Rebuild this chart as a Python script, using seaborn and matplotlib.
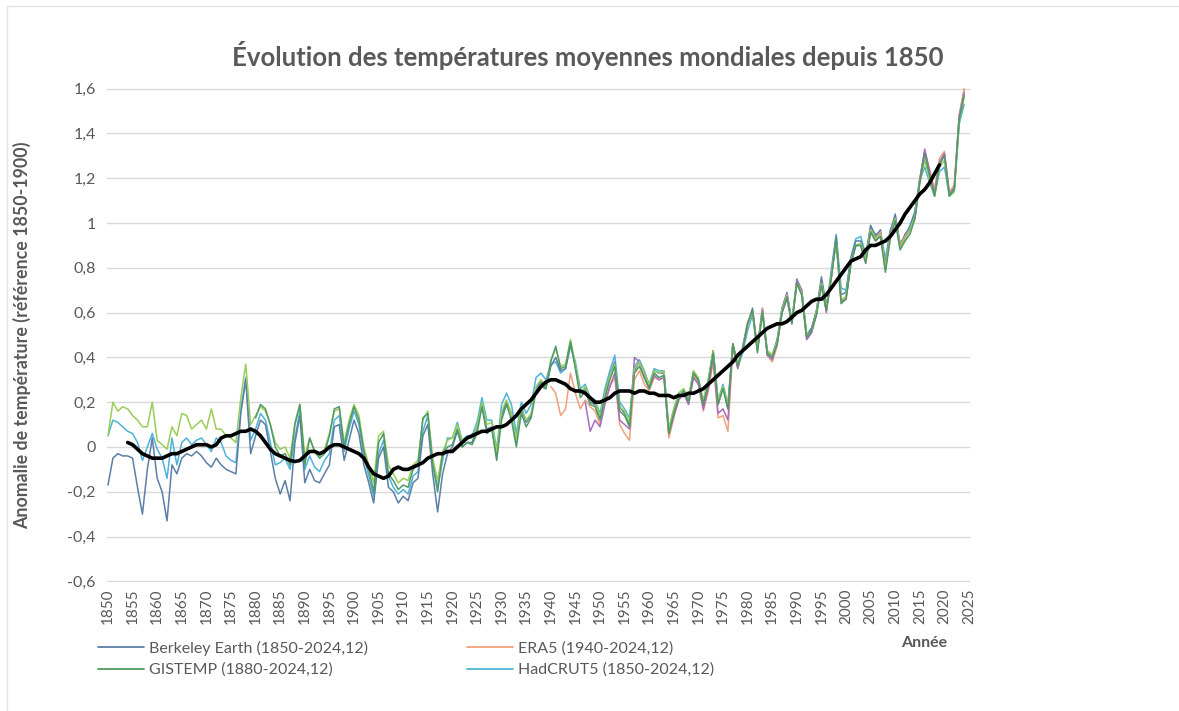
import matplotlib
matplotlib.use("Agg")
import matplotlib.pyplot as plt
import matplotlib.lines as mlines
import seaborn as sns

# ---------------------------------------------------------
# données (anomalies, référence 1850-1900)
# ---------------------------------------------------------
berkeley_start = 1850
berkeley = [
    -0.17, -0.05, -0.03, -0.04, -0.04, -0.05, -0.18, -0.30, -0.10, 0.04,
    -0.14, -0.20, -0.33, -0.08, -0.12, -0.05, -0.03, -0.04, -0.02, -0.04,
    -0.07, -0.09, -0.05, -0.08, -0.10, -0.11, -0.12, 0.15, 0.30, -0.03,
    0.05, 0.12, 0.10, -0.02, -0.14, -0.21, -0.15, -0.24, 0.02, 0.14,
    -0.16, -0.10, -0.15, -0.16, -0.12, -0.08, 0.09, 0.10, -0.06, 0.03,
    0.12, 0.06, -0.08, -0.16, -0.25, -0.05, 0.00, -0.18, -0.20, -0.25,
    -0.22, -0.24, -0.16, -0.14, 0.05, 0.10, -0.12, -0.29, -0.12, -0.03,
    0.00, 0.07, 0.00, 0.02, 0.02, 0.08, 0.19, 0.08, 0.09, -0.04,
    0.14, 0.20, 0.15, 0.02, 0.17, 0.11, 0.14, 0.26, 0.29, 0.26,
    0.36, 0.40, 0.34, 0.35, 0.46, 0.36, 0.24, 0.26, 0.20, 0.19,
    0.13, 0.24, 0.32, 0.38, 0.18, 0.15, 0.10, 0.34, 0.38, 0.33,
    0.27, 0.34, 0.33, 0.33, 0.05, 0.15, 0.22, 0.25, 0.21, 0.33,
    0.30, 0.19, 0.29, 0.43, 0.19, 0.27, 0.17, 0.46, 0.36, 0.44,
    0.55, 0.62, 0.44, 0.62, 0.43, 0.41, 0.48, 0.62, 0.69, 0.56,
    0.75, 0.70, 0.50, 0.53, 0.61, 0.76, 0.63, 0.77, 0.94, 0.68,
    0.69, 0.84, 0.92, 0.92, 0.85, 0.99, 0.94, 0.97, 0.81, 0.96,
    1.04, 0.90, 0.95, 0.98, 1.05, 1.20, 1.32, 1.22, 1.14, 1.27,
    1.31, 1.13, 1.16, 1.48, 1.59,
]

hadcrut_start = 1850
hadcrut = [
    0.05, 0.12, 0.11, 0.09, 0.07, 0.06, 0.02, -0.06, 0.00, 0.06,
    -0.01, -0.05, -0.14, 0.04, -0.08, 0.02, 0.04, 0.01, 0.03, 0.04,
    0.01, -0.02, 0.04, 0.02, -0.04, -0.06, -0.07, 0.17, 0.31, 0.03,
    0.08, 0.15, 0.12, 0.02, -0.08, -0.07, -0.05, -0.10, 0.04, 0.16,
    -0.10, -0.04, -0.09, -0.11, -0.06, -0.03, 0.12, 0.14, -0.02, 0.08,
    0.16, 0.10, -0.04, -0.13, -0.22, -0.03, 0.03, -0.13, -0.18, -0.21,
    -0.19, -0.21, -0.13, -0.11, 0.07, 0.14, -0.07, -0.18, -0.06, 0.04,
    0.04, 0.11, 0.03, 0.05, 0.05, 0.11, 0.22, 0.12, 0.12, -0.01,
    0.19, 0.24, 0.19, 0.06, 0.20, 0.15, 0.19, 0.31, 0.33, 0.30,
    0.37, 0.38, 0.33, 0.35, 0.45, 0.38, 0.26, 0.28, 0.22, 0.21,
    0.15, 0.26, 0.34, 0.41, 0.20, 0.17, 0.13, 0.36, 0.39, 0.34,
    0.28, 0.35, 0.34, 0.34, 0.08, 0.17, 0.24, 0.26, 0.21, 0.34,
    0.28, 0.20, 0.30, 0.43, 0.21, 0.28, 0.19, 0.46, 0.36, 0.42,
    0.52, 0.59, 0.44, 0.61, 0.41, 0.40, 0.47, 0.62, 0.67, 0.57,
    0.73, 0.70, 0.50, 0.53, 0.61, 0.74, 0.61, 0.79, 0.95, 0.71,
    0.70, 0.85, 0.93, 0.94, 0.86, 0.98, 0.95, 0.96, 0.84, 0.97,
    1.03, 0.91, 0.94, 0.99, 1.05, 1.19, 1.25, 1.18, 1.12, 1.23,
    1.25, 1.12, 1.14, 1.44, 1.53,
]

noaa_start = 1850
noaa = [
    0.05, 0.20, 0.16, 0.18, 0.17, 0.14, 0.12, 0.09, 0.09, 0.20,
    0.03, 0.01, -0.01, 0.09, 0.05, 0.15, 0.14, 0.08, 0.10, 0.12,
    0.08, 0.17, 0.08, 0.08, 0.05, 0.04, 0.02, 0.22, 0.37, 0.10,
    0.14, 0.18, 0.16, 0.10, 0.02, -0.01, 0.00, -0.05, 0.11, 0.19,
    -0.04, 0.04, -0.02, -0.04, -0.01, 0.06, 0.16, 0.17, 0.02, 0.12,
    0.19, 0.14, 0.00, -0.08, -0.16, 0.05, 0.07, -0.08, -0.12, -0.16,
    -0.14, -0.15, -0.08, -0.06, 0.12, 0.16, -0.05, -0.15, -0.02, 0.03,
    0.04, 0.10, 0.03, 0.04, 0.04, 0.09, 0.20, 0.10, 0.11, -0.02,
    0.16, 0.21, 0.15, 0.03, 0.18, 0.12, 0.15, 0.27, 0.30, 0.27,
    0.39, 0.44, 0.36, 0.37, 0.48, 0.37, 0.24, 0.27, 0.21, 0.20,
    0.14, 0.24, 0.32, 0.37, 0.18, 0.16, 0.11, 0.35, 0.38, 0.33,
    0.28, 0.34, 0.33, 0.34, 0.08, 0.17, 0.24, 0.26, 0.22, 0.34,
    0.31, 0.21, 0.30, 0.43, 0.21, 0.27, 0.19, 0.46, 0.37, 0.44,
    0.55, 0.60, 0.44, 0.60, 0.43, 0.41, 0.47, 0.61, 0.67, 0.56,
    0.73, 0.68, 0.50, 0.52, 0.60, 0.73, 0.62, 0.76, 0.92, 0.66,
    0.67, 0.83, 0.90, 0.91, 0.84, 0.97, 0.93, 0.95, 0.80, 0.94,
    1.02, 0.89, 0.93, 0.97, 1.03, 1.18, 1.28, 1.19, 1.12, 1.25,
    1.28, 1.12, 1.14, 1.45, 1.56,
]

gistemp_start = 1880
gistemp = [
    0.13, 0.19, 0.17, 0.10, 0.00, -0.04, -0.03, -0.08, 0.10, 0.19,
    -0.08, 0.04, -0.02, -0.05, -0.03, 0.05, 0.17, 0.18, 0.00, 0.10,
    0.18, 0.12, -0.02, -0.10, -0.20, 0.02, 0.06, -0.12, -0.15, -0.19,
    -0.17, -0.18, -0.10, -0.08, 0.13, 0.15, -0.08, -0.20, -0.03, 0.00,
    0.01, 0.08, 0.00, 0.02, 0.01, 0.06, 0.18, 0.06, 0.08, -0.06,
    0.12, 0.19, 0.12, 0.00, 0.15, 0.09, 0.13, 0.25, 0.27, 0.26,
    0.38, 0.45, 0.35, 0.36, 0.47, 0.35, 0.22, 0.25, 0.19, 0.18,
    0.12, 0.22, 0.30, 0.36, 0.16, 0.14, 0.09, 0.33, 0.36, 0.31,
    0.26, 0.33, 0.31, 0.32, 0.06, 0.15, 0.22, 0.25, 0.20, 0.33,
    0.30, 0.19, 0.28, 0.42, 0.19, 0.26, 0.17, 0.46, 0.36, 0.44,
    0.55, 0.61, 0.42, 0.60, 0.42, 0.40, 0.46, 0.60, 0.67, 0.55,
    0.73, 0.68, 0.49, 0.52, 0.59, 0.72, 0.61, 0.75, 0.93, 0.64,
    0.66, 0.82, 0.90, 0.90, 0.82, 0.96, 0.92, 0.94, 0.78, 0.93,
    1.01, 0.88, 0.92, 0.95, 1.02, 1.18, 1.31, 1.21, 1.12, 1.26,
    1.30, 1.12, 1.15, 1.46, 1.57,
]

era5_start = 1940
era5 = [
    0.27, 0.24, 0.14, 0.17, 0.33, 0.24, 0.17, 0.21, 0.18, 0.16,
    0.10, 0.20, 0.27, 0.31, 0.10, 0.06, 0.03, 0.30, 0.34, 0.28,
    0.25, 0.31, 0.30, 0.31, 0.04, 0.13, 0.21, 0.24, 0.19, 0.32,
    0.28, 0.16, 0.25, 0.38, 0.13, 0.14, 0.07, 0.44, 0.35, 0.45,
    0.56, 0.60, 0.44, 0.62, 0.41, 0.38, 0.45, 0.61, 0.68, 0.55,
    0.74, 0.69, 0.48, 0.51, 0.60, 0.73, 0.61, 0.76, 0.92, 0.66,
    0.66, 0.82, 0.90, 0.90, 0.82, 0.97, 0.93, 0.96, 0.80, 0.95,
    1.02, 0.90, 0.94, 0.97, 1.02, 1.19, 1.32, 1.24, 1.15, 1.29,
    1.32, 1.14, 1.17, 1.48, 1.60,
]

jra_start = 1947
jra = [
    0.20, 0.07, 0.12,
    0.09, 0.19, 0.27, 0.33, 0.12, 0.10, 0.08, 0.40, 0.38, 0.31,
    0.26, 0.32, 0.30, 0.31, 0.06, 0.14, 0.21, 0.24, 0.19, 0.31,
    0.28, 0.17, 0.26, 0.40, 0.15, 0.17, 0.12, 0.45, 0.35, 0.44,
    0.55, 0.60, 0.43, 0.61, 0.41, 0.39, 0.46, 0.60, 0.66, 0.55,
    0.74, 0.68, 0.48, 0.51, 0.59, 0.73, 0.60, 0.76, 0.92, 0.65,
    0.66, 0.82, 0.90, 0.90, 0.83, 0.96, 0.92, 0.95, 0.79, 0.95,
    1.02, 0.89, 0.93, 0.97, 1.02, 1.19, 1.33, 1.23, 1.13, 1.27,
    1.31, 1.13, 1.15, 1.47, 1.58,
]

# moyenne glissante (courbe noire)
moyenne_start = 1854
moyenne = [
    0.02, 0.01, -0.01, -0.03, -0.04, -0.05, -0.05, -0.05, -0.04, -0.03,
    -0.03, -0.02, -0.01, 0.00, 0.01, 0.01, 0.01, 0.00, 0.01, 0.04,
    0.05, 0.05, 0.06, 0.07, 0.07, 0.08, 0.07, 0.05, 0.02, -0.01,
    -0.03, -0.04, -0.05, -0.06, -0.065, -0.06, -0.04, -0.02, -0.02, -0.03,
    -0.02, 0.00, 0.01, 0.01, 0.00, -0.01, -0.02, -0.03, -0.05, -0.09,
    -0.12, -0.13, -0.14, -0.13, -0.10, -0.09, -0.10, -0.10, -0.09, -0.08,
    -0.07, -0.05, -0.04, -0.03, -0.03, -0.02, -0.02, 0.00, 0.02, 0.04,
    0.05, 0.06, 0.07, 0.07, 0.08, 0.09, 0.09, 0.10, 0.12, 0.14,
    0.17, 0.19, 0.21, 0.24, 0.27, 0.29, 0.30, 0.30, 0.29, 0.28,
    0.26, 0.25, 0.25, 0.24, 0.22, 0.20, 0.20, 0.21, 0.22, 0.24,
    0.25, 0.25, 0.25, 0.24, 0.25, 0.25, 0.24, 0.24, 0.23, 0.23,
    0.23, 0.22, 0.23, 0.23, 0.24, 0.24, 0.25, 0.26, 0.28, 0.30,
    0.32, 0.34, 0.36, 0.38, 0.41, 0.43, 0.45, 0.47, 0.49, 0.51,
    0.53, 0.54, 0.55, 0.55, 0.56, 0.58, 0.60, 0.61, 0.63, 0.65,
    0.66, 0.66, 0.68, 0.71, 0.74, 0.77, 0.80, 0.83, 0.84, 0.85,
    0.88, 0.90, 0.90, 0.91, 0.92, 0.94, 0.97, 1.00, 1.04, 1.07,
    1.10, 1.13, 1.15, 1.18, 1.22, 1.26,
]

yticks = [-0.6, -0.4, -0.2, 0, 0.2, 0.4, 0.6, 0.8, 1, 1.2, 1.4, 1.6]
ytick_labels = ['-0,6', '-0,4', '-0,2', '0', '0,2', '0,4', '0,6', '0,8', '1', '1,2', '1,4', '1,6']
xticks = list(range(1850, 2030, 5))

# ---------------------------------------------------------
# style
# ---------------------------------------------------------
sns.set_theme(style='white')
plt.rcParams['font.family'] = ['Lato', 'DejaVu Sans']
GRAY = '#595959'

W, H = 1179, 711
fig = plt.figure(figsize=(W / 100, H / 100), dpi=100)
ax = fig.add_axes([107 / W, 1 - 582 / H, (970 - 107) / W, (582 - 88) / H])


def yrs(start, vals):
    return list(range(start, start + len(vals)))


series = [
    ('HadCRUT5 (1850-2024,12)', hadcrut_start, hadcrut, '#4fb3d9'),
    ('Berkeley Earth (1850-2024,12)', berkeley_start, berkeley, '#5b7fa6'),
    ('ERA5 (1940-2024,12)', era5_start, era5, '#f0a07a'),
    ('JRA', jra_start, jra, '#a86cc1'),
    ('NOAA', noaa_start, noaa, '#9acd5a'),
    ('GISTEMP (1880-2024,12)', gistemp_start, gistemp, '#4e9a67'),
]
colors = {}
for name, start, vals, col in series:
    sns.lineplot(x=yrs(start, vals), y=vals, color=col, linewidth=1.1, ax=ax)
    colors[name] = col

sns.lineplot(x=yrs(moyenne_start, moyenne), y=moyenne, color='black', linewidth=2.6, ax=ax)

ax.set_xlim(1849.8, 2025.2)
ax.set_ylim(-0.603, 1.603)
ax.set_xticks(xticks)
ax.set_xticklabels([str(x) for x in xticks], rotation=90, fontsize=11, color=GRAY)
ax.set_yticks(yticks)
ax.set_yticklabels(ytick_labels, fontsize=11.5, color=GRAY)
ax.tick_params(axis='both', length=0)
ax.tick_params(axis='y', pad=8)
ax.tick_params(axis='x', pad=5)
ax.grid(axis='y', color='#d9d9d9', linewidth=1)
ax.grid(axis='x', visible=False)
for s in ax.spines.values():
    s.set_visible(False)
ax.set_xlabel('')
ax.set_ylabel('')

fig.text(588 / W, 1 - 55 / H, 'Évolution des températures moyennes mondiales depuis 1850',
         ha='center', va='center', fontsize=18.5, fontweight='bold', color=GRAY)
fig.text(22 / W, 1 - 335 / H, 'Anomalie de température (référence 1850-1900)',
         ha='center', va='center', rotation=90, fontsize=12.8, fontweight='bold', color=GRAY)
fig.text(924 / W, 1 - 643 / H, 'Année', ha='center', va='center',
         fontsize=11.5, fontweight='bold', color=GRAY)

# légende (seulement les 4 jeux visibles)
legend_names = ['Berkeley Earth (1850-2024,12)', 'GISTEMP (1880-2024,12)',
                'ERA5 (1940-2024,12)', 'HadCRUT5 (1850-2024,12)']
handles = [mlines.Line2D([], [], color=colors[n], linewidth=1.3) for n in legend_names]
leg = fig.legend(handles, legend_names, loc='upper left', bbox_to_anchor=(98 / W, 1 - 641 / H),
                 ncol=2, frameon=False, fontsize=11.5, handlelength=2.9, handletextpad=0.3,
                 columnspacing=6.2, labelspacing=0.42, borderaxespad=0, borderpad=0)
for t in leg.get_texts():
    t.set_color(GRAY)

# cadre léger de l'image
fig.add_artist(mlines.Line2D([7 / W, 7 / W], [0, 1 - 6 / H], color='#e3e3e3', linewidth=1))
fig.add_artist(mlines.Line2D([7 / W, 1], [1 - 6 / H, 1 - 6 / H], color='#e3e3e3', linewidth=1))

fig.savefig('out.png', dpi=100)
